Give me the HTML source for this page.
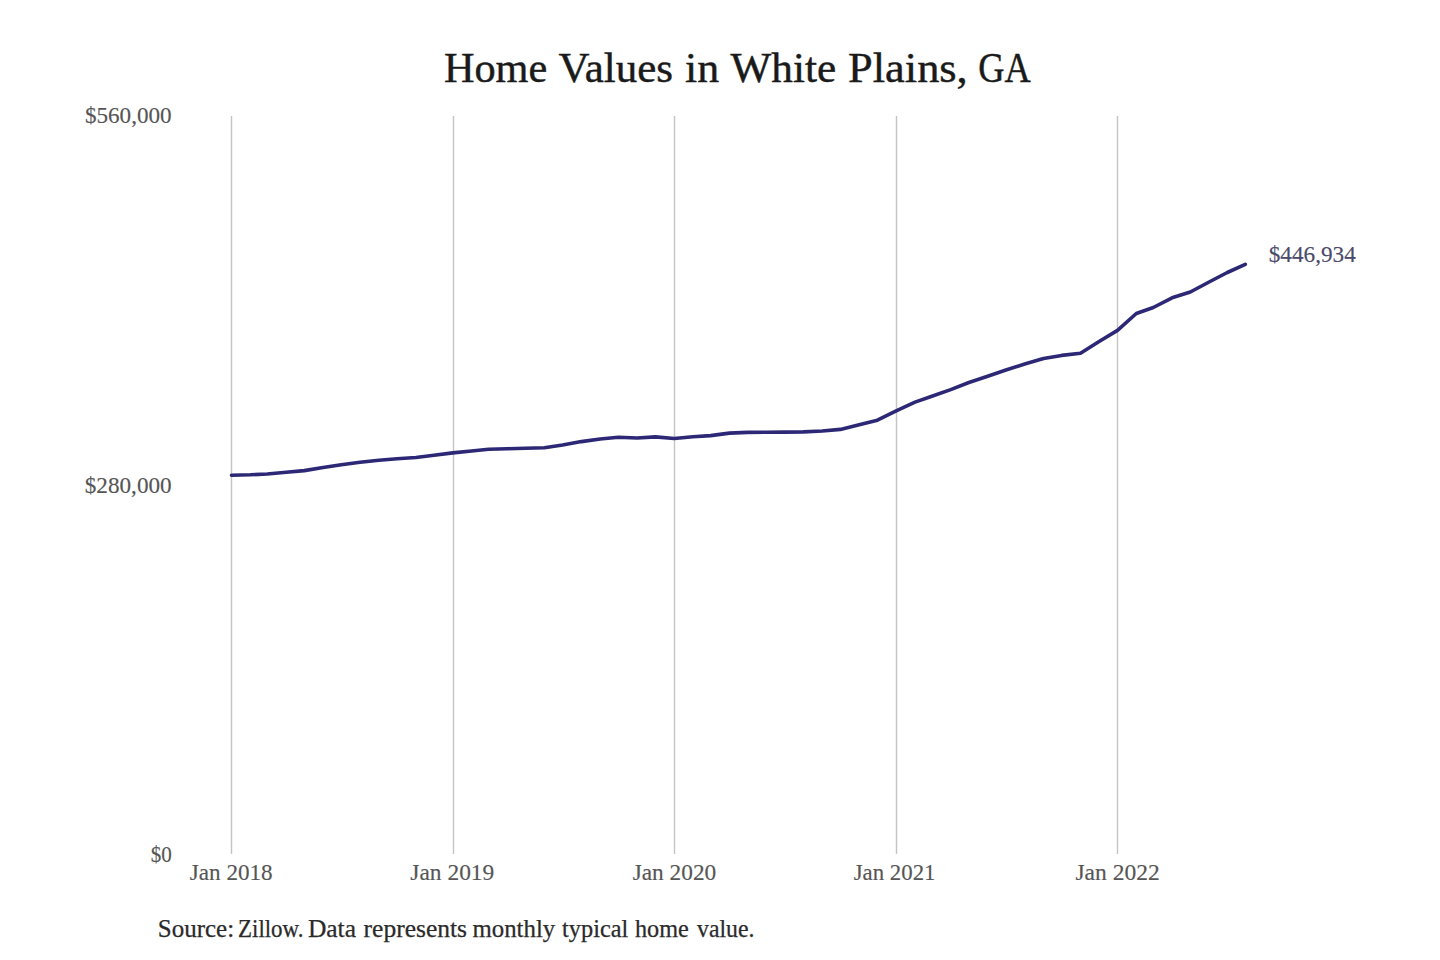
<!DOCTYPE html>
<html><head><meta charset="utf-8"><style>
html,body{margin:0;padding:0;background:#fff;}
svg{display:block;}
text{font-family:"Liberation Serif",serif;}
</style></head><body>
<svg width="1440" height="960" viewBox="0 0 1440 960">
<rect width="1440" height="960" fill="#fff"/>
<g stroke="#c4c4c4" stroke-width="1.4"><line x1="231.5" y1="116" x2="231.5" y2="854"/><line x1="453.5" y1="116" x2="453.5" y2="854"/><line x1="674.5" y1="116" x2="674.5" y2="854"/><line x1="896.5" y1="116" x2="896.5" y2="854"/><line x1="1117.5" y1="116" x2="1117.5" y2="854"/></g>
<polyline points="231.5,475.2 250.3,474.8 267.3,474.0 286.1,472.3 304.3,470.6 323.1,467.5 341.3,464.8 360.1,462.3 378.9,460.2 397.1,458.75 415.9,457.5 434.0,455.2 452.8,452.9 471.6,451.0 488.6,449.2 507.4,448.75 525.6,448.2 544.4,447.7 562.6,445.0 581.4,441.6 600.2,439.0 618.4,437.3 637.2,438.0 655.4,436.9 674.2,438.5 693.0,436.7 710.6,435.6 729.4,433.1 747.6,432.4 766.4,432.3 784.6,432.1 803.4,431.9 822.2,431.0 840.4,429.4 859.2,424.8 877.4,420.2 896.2,410.8 915.0,402.1 931.9,396.3 950.7,389.6 968.9,382.5 987.7,376.3 1005.9,370.0 1024.7,364.0 1043.5,358.5 1061.7,355.4 1080.5,353.3 1098.7,341.7 1117.5,330.4 1136.3,313.5 1153.3,307.5 1172.1,297.8 1190.3,292.0 1209.1,282.0 1227.3,272.5 1245.3,264.3" fill="none" stroke="#2c2876" stroke-width="3.6" stroke-linejoin="round" stroke-linecap="round"/>
<text x="443.90" y="82.3" font-size="42.7" fill="#1a1a1a" textLength="103.30" lengthAdjust="spacingAndGlyphs" stroke="#1a1a1a" stroke-width="0.45">Home</text>
<text x="558.50" y="82.3" font-size="42.7" fill="#1a1a1a" textLength="114.50" lengthAdjust="spacingAndGlyphs" stroke="#1a1a1a" stroke-width="0.45">Values</text>
<text x="685.00" y="82.3" font-size="42.7" fill="#1a1a1a" textLength="34.10" lengthAdjust="spacingAndGlyphs" stroke="#1a1a1a" stroke-width="0.45">in</text>
<text x="730.60" y="82.3" font-size="42.7" fill="#1a1a1a" textLength="105.50" lengthAdjust="spacingAndGlyphs" stroke="#1a1a1a" stroke-width="0.45">White</text>
<text x="848.10" y="82.3" font-size="42.7" fill="#1a1a1a" textLength="119.60" lengthAdjust="spacingAndGlyphs" stroke="#1a1a1a" stroke-width="0.45">Plains,</text>
<text x="978.20" y="82.3" font-size="42.7" fill="#1a1a1a" textLength="52.50" lengthAdjust="spacingAndGlyphs" stroke="#1a1a1a" stroke-width="0.45">GA</text>
<text x="84.90" y="122.9" font-size="24" fill="#555" textLength="86.70" lengthAdjust="spacingAndGlyphs" stroke="#555" stroke-width="0.15">$560,000</text>
<text x="84.80" y="492.6" font-size="24" fill="#555" textLength="86.80" lengthAdjust="spacingAndGlyphs" stroke="#555" stroke-width="0.15">$280,000</text>
<text x="150.80" y="862.3" font-size="24" fill="#555" textLength="21.10" lengthAdjust="spacingAndGlyphs" stroke="#555" stroke-width="0.15">$0</text>
<text x="189.80" y="879.8" font-size="24" fill="#555" textLength="82.90" lengthAdjust="spacingAndGlyphs" stroke="#555" stroke-width="0.15">Jan 2018</text>
<text x="410.30" y="879.8" font-size="24" fill="#555" textLength="84.00" lengthAdjust="spacingAndGlyphs" stroke="#555" stroke-width="0.15">Jan 2019</text>
<text x="632.70" y="879.8" font-size="24" fill="#555" textLength="83.60" lengthAdjust="spacingAndGlyphs" stroke="#555" stroke-width="0.15">Jan 2020</text>
<text x="853.70" y="879.8" font-size="24" fill="#555" textLength="81.80" lengthAdjust="spacingAndGlyphs" stroke="#555" stroke-width="0.15">Jan 2021</text>
<text x="1075.40" y="879.8" font-size="24" fill="#555" textLength="84.30" lengthAdjust="spacingAndGlyphs" stroke="#555" stroke-width="0.15">Jan 2022</text>
<text x="1268.70" y="261.5" font-size="23.6" fill="#4b4a6a" textLength="87.10" lengthAdjust="spacingAndGlyphs" stroke="#4b4a6a" stroke-width="0.15">$446,934</text>
<text x="157.80" y="937" font-size="24.2" fill="#2a2a2a" textLength="76.30" lengthAdjust="spacingAndGlyphs" stroke="#2a2a2a" stroke-width="0.25">Source:</text>
<text x="238.00" y="937" font-size="24.2" fill="#2a2a2a" textLength="65.40" lengthAdjust="spacingAndGlyphs" stroke="#2a2a2a" stroke-width="0.25">Zillow.</text>
<text x="307.90" y="937" font-size="24.2" fill="#2a2a2a" textLength="48.10" lengthAdjust="spacingAndGlyphs" stroke="#2a2a2a" stroke-width="0.25">Data</text>
<text x="363.60" y="937" font-size="24.2" fill="#2a2a2a" textLength="103.40" lengthAdjust="spacingAndGlyphs" stroke="#2a2a2a" stroke-width="0.25">represents</text>
<text x="472.55" y="937" font-size="24.2" fill="#2a2a2a" textLength="82.65" lengthAdjust="spacingAndGlyphs" stroke="#2a2a2a" stroke-width="0.25">monthly</text>
<text x="562.10" y="937" font-size="24.2" fill="#2a2a2a" textLength="66.20" lengthAdjust="spacingAndGlyphs" stroke="#2a2a2a" stroke-width="0.25">typical</text>
<text x="635.00" y="937" font-size="24.2" fill="#2a2a2a" textLength="53.80" lengthAdjust="spacingAndGlyphs" stroke="#2a2a2a" stroke-width="0.25">home</text>
<text x="697.00" y="937" font-size="24.2" fill="#2a2a2a" textLength="57.40" lengthAdjust="spacingAndGlyphs" stroke="#2a2a2a" stroke-width="0.25">value.</text>
</svg>
</body></html>
